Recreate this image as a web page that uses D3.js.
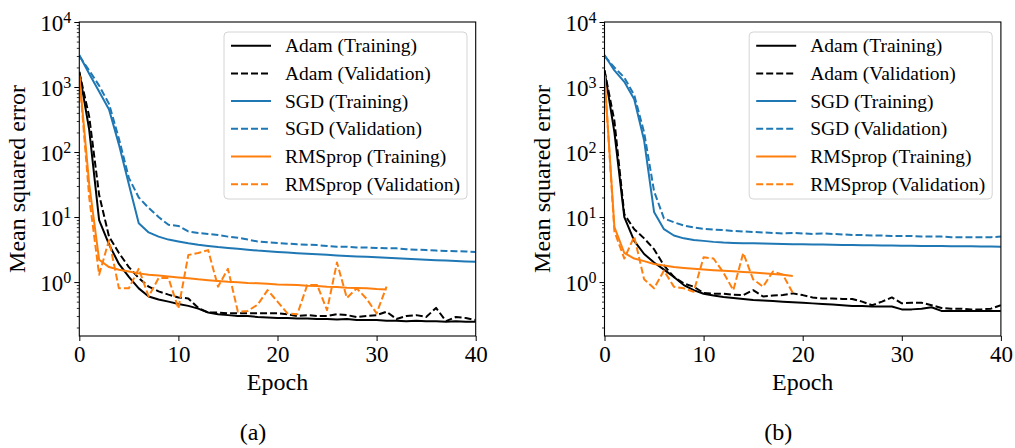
<!DOCTYPE html>
<html>
<head>
<meta charset="utf-8">
<script src="https://cdn.jsdelivr.net/npm/d3@7"></script>
<style>
  body { margin: 0; background: #fff; }
  svg { display: block; }
  text { font-family: "Liberation Serif", "Times New Roman", serif; fill: #000; }
</style>
</head>
<body>
<svg id="chart" width="1015" height="448"></svg>
<script>
// ---- Mean squared error per epoch (index = epoch) ----
// Panel (a)
const A_adamTrain = [1700, 220, 9, 3.8, 1.9, 1.2, 0.8, 0.6, 0.54, 0.5, 0.46, 0.43, 0.39, 0.34, 0.32, 0.31, 0.3, 0.3, 0.29, 0.285, 0.28, 0.28, 0.275, 0.275, 0.27, 0.27, 0.265, 0.27, 0.26, 0.26, 0.26, 0.255, 0.255, 0.25, 0.255, 0.25, 0.25, 0.245, 0.25, 0.245, 0.245];
const A_adamVal   = [1700, 350, 22, 5, 2.8, 1.7, 1.15, 0.85, 0.72, 0.64, 0.58, 0.56, 0.4, 0.34, 0.34, 0.33, 0.33, 0.33, 0.33, 0.33, 0.33, 0.32, 0.3, 0.31, 0.3, 0.3, 0.32, 0.31, 0.29, 0.3, 0.31, 0.35, 0.27, 0.3, 0.31, 0.29, 0.4, 0.25, 0.29, 0.28, 0.26];
const A_sgdTrain  = [3100, 1600, 850, 450, 130, 32, 8, 5.8, 5.0, 4.5, 4.2, 3.95, 3.75, 3.6, 3.45, 3.35, 3.25, 3.15, 3.05, 2.98, 2.9, 2.84, 2.78, 2.72, 2.67, 2.62, 2.57, 2.52, 2.48, 2.44, 2.4, 2.36, 2.32, 2.28, 2.24, 2.2, 2.17, 2.14, 2.11, 2.08, 2.05];
const A_sgdVal    = [3000, 1800, 1050, 550, 160, 40, 20, 13.8, 10, 7.6, 7.3, 6.0, 5.7, 5.5, 5.3, 5.0, 4.8, 4.5, 4.2, 4.1, 4.0, 3.9, 3.8, 3.75, 3.7, 3.6, 3.5, 3.5, 3.4, 3.4, 3.35, 3.3, 3.3, 3.2, 3.15, 3.1, 3.05, 3.0, 2.98, 2.95, 2.9];
const A_rmsTrain  = [1500, 32, 2.2, 1.7, 1.55, 1.45, 1.36, 1.3, 1.26, 1.22, 1.18, 1.14, 1.1, 1.07, 1.04, 1.01, 0.99, 0.97, 0.96, 0.94, 0.92, 0.91, 0.9, 0.88, 0.87, 0.85, 0.84, 0.82, 0.81, 0.8, 0.78, 0.77];
const A_rmsVal    = [1500, 20, 1.3, 4.4, 0.8, 0.8, 1.6, 0.6, 1.15, 1.15, 0.39, 2.6, 2.8, 3.1, 0.85, 1.6, 0.35, 0.36, 0.45, 0.75, 0.5, 0.33, 0.32, 0.9, 0.9, 0.37, 2.0, 0.57, 0.8, 0.55, 0.33, 0.85];
// Panel (b)
const B_adamTrain = [1800, 200, 10, 4.3, 2.7, 2.0, 1.55, 1.2, 0.9, 0.75, 0.66, 0.62, 0.59, 0.57, 0.55, 0.53, 0.52, 0.51, 0.5, 0.49, 0.48, 0.47, 0.46, 0.45, 0.44, 0.43, 0.43, 0.42, 0.42, 0.42, 0.38, 0.38, 0.39, 0.41, 0.36, 0.36, 0.36, 0.36, 0.36, 0.36, 0.36];
const B_adamVal   = [1800, 300, 11, 6.5, 4.7, 3.2, 1.8, 1.2, 0.95, 0.85, 0.68, 0.66, 0.66, 0.64, 0.63, 0.75, 0.6, 0.62, 0.63, 0.67, 0.63, 0.58, 0.56, 0.56, 0.55, 0.55, 0.5, 0.44, 0.5, 0.58, 0.47, 0.48, 0.48, 0.44, 0.4, 0.39, 0.39, 0.38, 0.38, 0.39, 0.44];
const B_sgdTrain  = [3100, 1800, 1200, 650, 150, 12, 6.5, 5.2, 4.7, 4.45, 4.3, 4.15, 4.05, 4.0, 3.97, 3.94, 3.91, 3.88, 3.85, 3.83, 3.81, 3.79, 3.77, 3.75, 3.73, 3.71, 3.69, 3.67, 3.65, 3.64, 3.62, 3.61, 3.6, 3.58, 3.57, 3.56, 3.55, 3.54, 3.53, 3.52, 3.5];
const B_sgdVal    = [3000, 2000, 1400, 750, 200, 25, 9.5, 8.3, 7.4, 6.9, 6.6, 6.4, 6.3, 6.1, 6.0, 5.9, 5.8, 5.7, 5.6, 5.7, 5.6, 5.5, 5.6, 5.5, 5.4, 5.3, 5.3, 5.2, 5.2, 5.1, 5.1, 5.1, 5.0, 5.0, 5.0, 4.9, 4.9, 4.9, 4.9, 4.9, 5.0];
const B_rmsTrain  = [1500, 7, 2.8, 2.3, 2.1, 1.9, 1.8, 1.7, 1.65, 1.6, 1.56, 1.52, 1.49, 1.46, 1.43, 1.4, 1.37, 1.33, 1.29, 1.24];
const B_rmsVal    = [1500, 6, 2.3, 5, 1.1, 0.8, 1.5, 0.85, 0.8, 0.71, 2.4, 2.3, 1.4, 0.75, 2.8, 1.1, 0.85, 1.45, 1.3, 0.68];

const seriesLabels = ["Adam (Training)", "Adam (Validation)", "SGD (Training)", "SGD (Validation)", "RMSprop (Training)", "RMSprop (Validation)"];
const xTicks = [0, 10, 20, 30, 40];
const yMajorTicks = [1, 10, 100, 1000, 10000];
const captions = ["(a)", "(b)"];
const xLabel = "Epoch";
const yLabel = "Mean squared error";

// ---- line styles, one per series ----
const styles = [
  { color: "#000000", dash: null },
  { color: "#000000", dash: "7,3" },
  { color: "#1f77b4", dash: null },
  { color: "#1f77b4", dash: "7,3" },
  { color: "#ff7f0e", dash: null },
  { color: "#ff7f0e", dash: "7,3" }
];

const panels = [
  { left: 79.3, caption: captions[0], series: [A_adamTrain, A_adamVal, A_sgdTrain, A_sgdVal, A_rmsTrain, A_rmsVal] },
  { left: 604.5, caption: captions[1], series: [B_adamTrain, B_adamVal, B_sgdTrain, B_sgdVal, B_rmsTrain, B_rmsVal] }
];

const plotW = 396.4, plotTop = 22, plotBottom = 336;
const yMin = 0.148, yMax = 1e4;

const svg = d3.select("#chart");

// minor log ticks 2..9 per decade inside the domain
const yMinorTicks = [];
for (let k = -1; k <= 3; k++) {
  for (let m = 2; m <= 9; m++) {
    const v = m * Math.pow(10, k);
    if (v >= yMin && v <= yMax) yMinorTicks.push(v);
  }
}

panels.forEach((p, pi) => {
  const g = svg.append("g").attr("transform", `translate(${p.left},0)`);
  const x = d3.scaleLinear().domain([0, 40]).range([0, plotW]);
  const y = d3.scaleLog().domain([yMin, yMax]).range([plotBottom, plotTop]);

  const clipId = "clip" + pi;
  g.append("clipPath").attr("id", clipId)
    .append("rect").attr("x", 0).attr("y", plotTop).attr("width", plotW).attr("height", plotBottom - plotTop);

  const line = d3.line().x((d, i) => x(i)).y(d => y(d));

  const lines = g.append("g").attr("clip-path", `url(#${clipId})`);
  p.series.forEach((s, si) => {
    lines.append("path")
      .datum(s)
      .attr("d", line)
      .attr("fill", "none")
      .attr("stroke", styles[si].color)
      .attr("stroke-width", 2)
      .attr("stroke-linejoin", "round")
      .attr("stroke-dasharray", styles[si].dash);
  });

  // x axis
  const gx = g.append("g").attr("transform", `translate(0,${plotBottom})`)
    .call(d3.axisBottom(x).tickValues(xTicks).tickSize(5).tickPadding(5).tickFormat(d3.format("d")));
  gx.select(".domain").remove();
  gx.selectAll(".tick line").attr("stroke", "#000").attr("stroke-width", 1);
  gx.selectAll(".tick text").style("font-size", "23px").style("font-family", '"Liberation Serif", serif');

  // y axis: minor ticks
  const gyMinor = g.append("g").call(d3.axisLeft(y).tickValues(yMinorTicks).tickSize(2.5).tickFormat(""));
  gyMinor.select(".domain").remove();
  gyMinor.selectAll(".tick line").attr("stroke", "#000").attr("stroke-width", 0.8);

  // y axis: major ticks with 10^k labels
  const gy = g.append("g").call(d3.axisLeft(y).tickValues(yMajorTicks).tickSize(5).tickPadding(3));
  gy.select(".domain").remove();
  gy.selectAll(".tick line").attr("stroke", "#000").attr("stroke-width", 1);
  gy.selectAll(".tick text").each(function (d) {
    const t = d3.select(this);
    t.text(null)
      .attr("dy", "0.36em")
      .style("font-size", "23px")
      .style("font-family", '"Liberation Serif", serif');
    t.append("tspan").text("10");
    t.append("tspan").attr("dy", "-0.5em").style("font-size", "16px").text(Math.round(Math.log10(d)));
  });

  // frame
  g.append("rect")
    .attr("x", 0).attr("y", plotTop)
    .attr("width", plotW).attr("height", plotBottom - plotTop)
    .attr("fill", "none").attr("stroke", "#000").attr("stroke-width", 1.1);

  // legend
  const lg = g.append("g");
  lg.append("rect")
    .attr("x", 144.7).attr("y", 32).attr("width", 243).attr("height", 167)
    .attr("rx", 4).attr("ry", 4)
    .attr("fill", "#fff").attr("fill-opacity", 0.8)
    .attr("stroke", "#d4d4d4").attr("stroke-width", 1);
  seriesLabels.forEach((lab, i) => {
    const ry = 45.7 + i * 27.7;
    lg.append("line")
      .attr("x1", 151.7).attr("x2", 191.7).attr("y1", ry).attr("y2", ry)
      .attr("stroke", styles[i].color).attr("stroke-width", 2)
      .attr("stroke-dasharray", styles[i].dash);
    lg.append("text")
      .attr("x", 205.7).attr("y", ry).attr("dy", "0.34em")
      .style("font-size", "19.5px")
      .text(lab);
  });

  // axis titles
  g.append("text")
    .attr("x", plotW / 2).attr("y", 390)
    .attr("text-anchor", "middle")
    .style("font-size", "24px")
    .text(xLabel);
  g.append("text")
    .attr("transform", `translate(-54.3,${(plotTop + plotBottom) / 2}) rotate(-90)`)
    .attr("text-anchor", "middle")
    .style("font-size", "24px")
    .text(yLabel);

  // panel caption
  g.append("text")
    .attr("x", 173.7).attr("y", 440)
    .attr("text-anchor", "middle")
    .style("font-size", "24px")
    .text(p.caption);
});
</script>
</body>
</html>
